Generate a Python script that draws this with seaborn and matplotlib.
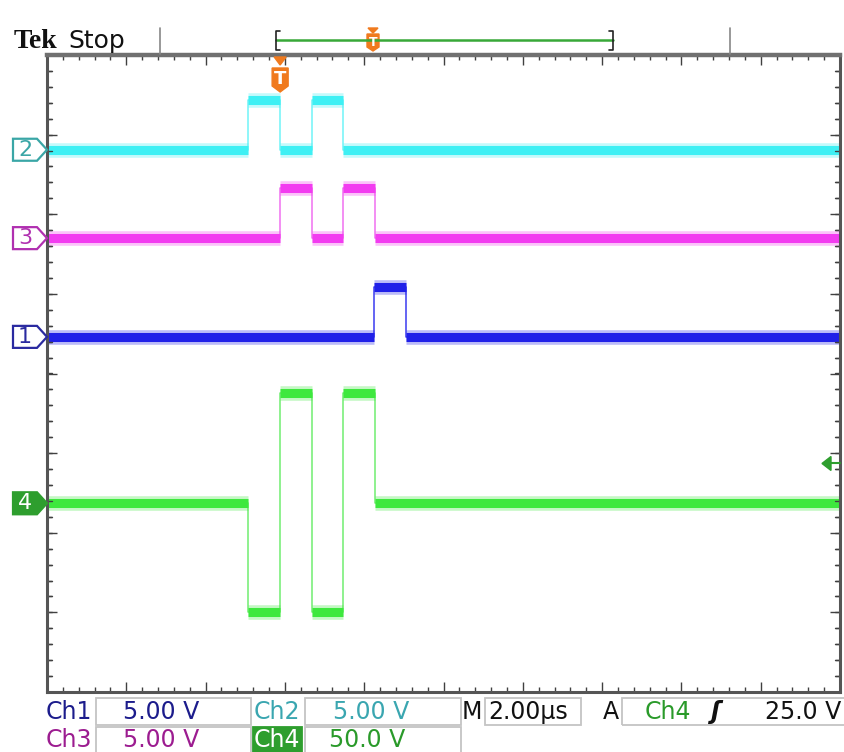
import numpy as np
import pandas as pd
import matplotlib
matplotlib.use("Agg")
import matplotlib.pyplot as plt
import seaborn as sns
from matplotlib.patches import Polygon, Rectangle
from matplotlib.lines import Line2D
from matplotlib.ticker import MultipleLocator

# ---------------- data ----------------
time_span_us = [0.0, 20.0]          # 10 div x 2.00 us
channels = ["Ch1", "Ch2", "Ch3", "Ch4"]
ch1_edges_us = [8.25, 9.05]
ch1_levels_v = [0.0, 3.15, 0.0]
ch2_edges_us = [5.07, 5.88, 6.68, 7.47]
ch2_levels_v = [0.0, 3.1, 0.0, 3.1, 0.0]
ch3_edges_us = [5.88, 6.68, 7.47, 8.27]
ch3_levels_v = [0.0, 3.15, 0.0, 3.15, 0.0]
ch4_edges_us = [5.07, 5.88, 6.68, 7.47, 8.27]
ch4_levels_v = [0.0, -68.5, 69.0, -68.5, 69.0, 0.0]
volts_per_div = [5.0, 5.0, 5.0, 50.0]
offset_div = [0.46, 2.81, 1.70, -1.63]
trigger_time_us = 5.88
trigger_level_v = 25.0
scale_labels = ["5.00 V", "5.00 V", "5.00 V", "50.0 V"]
timebase_label = "2.00µs"
trigger_label = "25.0 V"

# ---------------- style ----------------
W, H = 845, 752
sns.set_theme(style="white")
plt.rcParams["font.family"] = ["DejaVu Sans"]

trace_colors = ["#2020e8", "#3ef0f4", "#f23cf0", "#3ee83e"]
edge_colors = ["#3a3af0", "#70f4f8", "#f070f0", "#70ee70"]
marker_edge = ["#2a2aa0", "#3aa6a6", "#b030b0", "#2e9e2e"]
label_colors = ["#1c1c8c", "#3aa6b0", "#9c1c90", "#2a9a2a"]

fig = plt.figure(figsize=(W / 100, H / 100), dpi=100)
fig.patch.set_facecolor("white")
L, R, T, B = 47, 840, 55, 692
ax = fig.add_axes([L / W, 1 - B / H, (R - L) / W, (B - T) / H])
ax.set_facecolor("white")


def step_frame(edges, levels, vpd, off):
    xs, ys = [time_span_us[0]], [levels[0]]
    for e, a, b in zip(edges, levels[:-1], levels[1:]):
        xs += [e, e]
        ys += [a, b]
    xs.append(time_span_us[1])
    ys.append(levels[-1])
    return pd.DataFrame({"t": xs, "y": np.array(ys) / vpd + off})


def flat_frame(edges, levels, vpd, off):
    bounds = [time_span_us[0]] + list(edges) + [time_span_us[1]]
    rows = []
    for i, lev in enumerate(levels):
        rows.append((i, bounds[i], lev / vpd + off))
        rows.append((i, bounds[i + 1], lev / vpd + off))
    return pd.DataFrame(rows, columns=["seg", "t", "y"])


all_edges = [ch1_edges_us, ch2_edges_us, ch3_edges_us, ch4_edges_us]
all_levels = [ch1_levels_v, ch2_levels_v, ch3_levels_v, ch4_levels_v]
for k in [3, 0, 2, 1]:
    st = step_frame(all_edges[k], all_levels[k], volts_per_div[k], offset_div[k])
    fl = flat_frame(all_edges[k], all_levels[k], volts_per_div[k], offset_div[k])
    sns.lineplot(data=st, x="t", y="y", sort=False, estimator=None,
                 color=edge_colors[k], lw=1.1, ax=ax)
    sns.lineplot(data=fl, x="t", y="y", units="seg", sort=False, estimator=None,
                 color=trace_colors[k], lw=10.5, alpha=0.3, ax=ax,
                 solid_capstyle="butt")
    sns.lineplot(data=fl, x="t", y="y", units="seg", sort=False, estimator=None,
                 color=trace_colors[k], lw=6.5, ax=ax, solid_capstyle="butt")

ax.set_xlim(*time_span_us)
ax.set_ylim(-4, 4)
ax.set_xlabel("")
ax.set_ylabel("")
ax.xaxis.set_major_locator(MultipleLocator(2.0))
ax.xaxis.set_minor_locator(MultipleLocator(0.4))
ax.yaxis.set_major_locator(MultipleLocator(1.0))
ax.yaxis.set_minor_locator(MultipleLocator(0.2))
ax.tick_params(which="both", top=True, right=True, bottom=True, left=True,
               labelbottom=False, labelleft=False, direction="in", color="#404040")
ax.tick_params(which="major", length=7, width=1.0)
ax.tick_params(which="minor", length=3.5, width=1.0)
ax.grid(False)
for s in ["left", "right", "bottom"]:
    ax.spines[s].set_color("#555555")
    ax.spines[s].set_linewidth(2.2)
ax.spines["top"].set_color("#707070")
ax.spines["top"].set_linewidth(3.2)

# graticule minor marks along the left and right edges (every 0.2 div)
ytr = ax.get_yaxis_transform()
for yv in np.arange(-3.8, 3.81, 0.2):
    for x0, x1 in [(0.0, 0.0065), (0.9935, 1.0)]:
        ax.add_line(Line2D([x0, x1], [yv, yv], transform=ytr, color="#404040",
                           lw=1.0, clip_on=False))


def fx(px):
    return px / W


def fy(py):
    return 1 - py / H


def data_py(y):
    return H - ax.transData.transform((0, y))[1]


def data_px(t):
    return ax.transData.transform((t, 0))[0]


# ---- channel markers on the left ----
for k, name in enumerate(channels):
    py = data_py(offset_div[k])
    pts = [(13, py - 11), (37, py - 11), (47, py), (37, py + 11), (13, py + 11)]
    face = marker_edge[3] if k == 3 else "white"
    fig.add_artist(Polygon([(fx(a), fy(b)) for a, b in pts], closed=True,
                           transform=fig.transFigure, facecolor=face,
                           edgecolor=marker_edge[k], lw=1.6))
    fig.text(fx(25), fy(py), name[-1], ha="center", va="center", fontsize=16,
             color="white" if k == 3 else marker_edge[k])

# ---- trigger level arrow on the right ----
py = data_py(offset_div[3] + trigger_level_v / volts_per_div[3])
fig.add_artist(Polygon([(fx(822), fy(py)), (fx(831), fy(py - 7)), (fx(831), fy(py + 7))],
                       closed=True, transform=fig.transFigure,
                       facecolor="#2e9e2e", edgecolor="#2e9e2e"))
fig.add_artist(Line2D([fx(830), fx(840)], [fy(py), fy(py)], transform=fig.transFigure,
                      color="#2e9e2e", lw=1.5))

# ---- trigger position marker at top of graticule ----
tx = data_px(trigger_time_us)
orange = "#f07a1e"
fig.add_artist(Polygon([(fx(tx - 6), fy(57)), (fx(tx + 6), fy(57)), (fx(tx), fy(65))],
                       closed=True, transform=fig.transFigure, facecolor=orange,
                       edgecolor=orange))
shield = [(tx - 8, 68), (tx + 8, 68), (tx + 8, 86), (tx, 92), (tx - 8, 86)]
fig.add_artist(Polygon([(fx(a), fy(b)) for a, b in shield], closed=True,
                       transform=fig.transFigure, facecolor=orange, edgecolor=orange))
fig.text(fx(tx), fy(79), "T", ha="center", va="center", fontsize=13,
         color="white", fontweight="bold")

# ---- header ----
fig.text(fx(14), fy(48), "Tek", ha="left", va="baseline", fontsize=20,
         fontweight="bold", family=["Liberation Serif", "DejaVu Serif"], color="#111111")
fig.text(fx(68), fy(48), "Stop", ha="left", va="baseline", fontsize=18, color="#111111")
for xx in [160, 730]:
    fig.add_artist(Line2D([fx(xx), fx(xx)], [fy(28), fy(54)], transform=fig.transFigure,
                          color="#888888", lw=1.2))
green = "#38a838"
fig.add_artist(Line2D([fx(276), fx(613)], [fy(40), fy(40)], transform=fig.transFigure,
                      color=green, lw=1.8))
for xx, d in [(276, 1), (613, -1)]:
    fig.add_artist(Line2D([fx(xx + 4 * d), fx(xx), fx(xx), fx(xx + 4 * d)],
                          [fy(31), fy(31), fy(50), fy(50)], transform=fig.transFigure,
                          color="#222222", lw=1.2))
mx = 373
fig.add_artist(Polygon([(fx(mx - 5), fy(28)), (fx(mx + 5), fy(28)), (fx(mx), fy(33))],
                       closed=True, transform=fig.transFigure, facecolor=orange,
                       edgecolor=orange))
sh2 = [(mx - 6, 34), (mx + 6, 34), (mx + 6, 47), (mx, 51), (mx - 6, 47)]
fig.add_artist(Polygon([(fx(a), fy(b)) for a, b in sh2], closed=True,
                       transform=fig.transFigure, facecolor=orange, edgecolor=orange))
fig.text(fx(mx), fy(42), "T", ha="center", va="center", fontsize=9,
         color="white", fontweight="bold")

# ---- bottom readout ----
box_c = "#c4c4c4"


def box(x0, x1, y0, y1, face="none", ec=box_c):
    fig.add_artist(Rectangle((fx(x0), fy(y1)), fx(x1) - fx(x0), fy(y0) - fy(y1),
                             transform=fig.transFigure, facecolor=face,
                             edgecolor=ec, lw=1.3))


r1a, r1b, r2a, r2b = 698, 725, 727, 753
box(96, 251, r1a, r1b)
box(305, 461, r1a, r1b)
box(485, 581, r1a, r1b)
box(622, 846, r1a, r1b)
box(96, 251, r2a, r2b)
box(253, 302, r2a, r2b, face="#2e9e2e", ec="#2e9e2e")
box(305, 461, r2a, r2b)

fs = 17
y1, y2 = 712, 740
fig.text(fx(46), fy(y1), channels[0], ha="left", va="center", fontsize=fs, color=label_colors[0])
fig.text(fx(123), fy(y1), scale_labels[0], ha="left", va="center", fontsize=fs, color=label_colors[0])
fig.text(fx(254), fy(y1), channels[1], ha="left", va="center", fontsize=fs, color=label_colors[1])
fig.text(fx(333), fy(y1), scale_labels[1], ha="left", va="center", fontsize=fs, color=label_colors[1])
fig.text(fx(462), fy(y1), "M", ha="left", va="center", fontsize=fs, color="#111111")
fig.text(fx(488), fy(y1), timebase_label, ha="left", va="center", fontsize=fs, color="#111111")
fig.text(fx(603), fy(y1), "A", ha="left", va="center", fontsize=fs, color="#111111")
fig.text(fx(645), fy(y1), channels[3], ha="left", va="center", fontsize=fs, color=label_colors[3])
fig.text(fx(716), fy(y1), "ʃ", ha="center", va="center", fontsize=fs, color="#111111",
         fontweight="bold", style="italic")
fig.text(fx(841), fy(y1), trigger_label, ha="right", va="center", fontsize=fs, color="#111111")
fig.text(fx(46), fy(y2), channels[2], ha="left", va="center", fontsize=fs, color=label_colors[2])
fig.text(fx(123), fy(y2), scale_labels[2], ha="left", va="center", fontsize=fs, color=label_colors[2])
fig.text(fx(277), fy(y2), channels[3], ha="center", va="center", fontsize=fs, color="white")
fig.text(fx(329), fy(y2), scale_labels[3], ha="left", va="center", fontsize=fs, color=label_colors[3])

fig.savefig("out.png", dpi=100, facecolor="white")
